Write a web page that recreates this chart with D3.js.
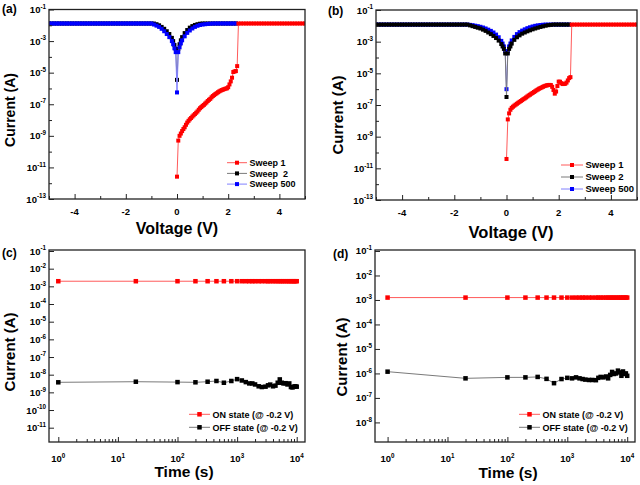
<!DOCTYPE html>
<html><head><meta charset="utf-8">
<script src="https://cdn.jsdelivr.net/npm/d3@7"></script>
<style>
body{margin:0;background:#fff}
text{font-family:"Liberation Sans",Arial,sans-serif;font-weight:bold;fill:#000}
</style>
</head><body>
<svg id="chart" width="640" height="485"></svg>
<script>
// ---------------- DATA ----------------
// Panels (a),(b): I-V sweeps
const voltsSweepA = [-5.0,-4.9,-4.8,-4.7,-4.6,-4.5,-4.4,-4.3,-4.2,-4.1,-4.0,-3.9,-3.8,-3.7,-3.6,-3.5,-3.4,-3.3,-3.2,-3.1,-3.0,-2.9,-2.8,-2.7,-2.6,-2.5,-2.4,-2.3,-2.2,-2.1,-2.0,-1.9,-1.8,-1.7,-1.6,-1.5,-1.4,-1.3,-1.2,-1.1,-1.0,-0.9,-0.8,-0.7,-0.6,-0.5,-0.4,-0.3,-0.2,-0.15,-0.1,-0.05,0,0.05,0.1,0.15,0.2,0.3,0.4,0.5,0.6,0.7,0.8,0.9,1.0,1.1,1.2,1.3,1.4,1.5,1.6,1.7,1.8,1.9,2.0,2.1,2.2,2.3];
const sweep2A = [1.3e-2,1.3e-2,1.3e-2,1.3e-2,1.3e-2,1.3e-2,1.3e-2,1.3e-2,1.3e-2,1.3e-2,
 1.3e-2,1.3e-2,1.3e-2,1.3e-2,1.3e-2,1.3e-2,1.3e-2,1.3e-2,1.3e-2,1.3e-2,
 1.3e-2,1.3e-2,1.3e-2,1.3e-2,1.3e-2,1.3e-2,1.3e-2,1.3e-2,1.3e-2,1.3e-2,
 1.3e-2,1.3e-2,1.3e-2,1.3e-2,1.3e-2,1.3e-2,1.3e-2,1.3e-2,1.3e-2,1.3e-2,1.3e-2,
 1.29e-2,1.17e-2,1.0e-2,7.9e-3,6.0e-3,4.2e-3,2.8e-3,1.6e-3,
 1.0e-3,5.6e-4,3.2e-4,3.5e-6,3.2e-4,6.3e-4,1.12e-3,
 1.78e-3,3.2e-3,5.0e-3,7.1e-3,8.9e-3,1.05e-2,1.17e-2,1.26e-2,
 1.3e-2,1.3e-2,1.3e-2,1.3e-2,1.3e-2,1.3e-2,1.3e-2,1.3e-2,1.3e-2,1.3e-2,1.3e-2,1.3e-2,1.3e-2,1.3e-2];
const sweep500A = [1.3e-2,1.3e-2,1.3e-2,1.3e-2,1.3e-2,1.3e-2,1.3e-2,1.3e-2,1.3e-2,1.3e-2,
 1.3e-2,1.3e-2,1.3e-2,1.3e-2,1.3e-2,1.3e-2,1.3e-2,1.3e-2,1.3e-2,1.3e-2,
 1.3e-2,1.3e-2,1.3e-2,1.3e-2,1.3e-2,1.3e-2,1.3e-2,1.3e-2,1.3e-2,1.3e-2,
 1.3e-2,1.3e-2,1.3e-2,1.3e-2,1.3e-2,1.3e-2,1.3e-2,1.3e-2,1.3e-2,1.3e-2,1.3e-2,
 1.12e-2,9.5e-3,7.9e-3,6.0e-3,4.2e-3,2.8e-3,1.78e-3,1.0e-3,
 6.3e-4,3.5e-4,2.0e-4,5.6e-7,2.0e-4,4.0e-4,7.1e-4,
 1.12e-3,2.0e-3,3.3e-3,4.7e-3,6.3e-3,7.9e-3,9.3e-3,1.05e-2,1.12e-2,1.17e-2,1.23e-2,1.26e-2,1.29e-2,
 1.3e-2,1.3e-2,1.3e-2,1.3e-2,1.3e-2,1.3e-2,1.3e-2,1.3e-2,1.3e-2];
const voltsSweep1A = [0,0.05,0.1,0.15,0.2,0.25,0.3,0.35,0.4,0.45,0.5,0.55,0.6,0.65,0.7,0.75,0.8,0.85,0.9,0.95,1.0,1.05,1.1,1.15,1.2,1.25,1.3,1.35,1.4,1.45,1.5,1.55,1.6,1.65,1.7,1.75,1.8,1.85,1.9,1.95,2.0,2.05,2.1,2.15,2.2,2.25,2.3,2.35,2.4,
 2.5,2.6,2.7,2.8,2.9,3.0,3.1,3.2,3.3,3.4,3.5,3.6,3.7,3.8,3.9,4.0,4.1,4.2,4.3,4.4,4.5,4.6,4.7,4.8,4.9,5.0];
const sweep1A = [2.6e-12,5.0e-10,1.0e-9,1.4e-9,2.0e-9,2.7e-9,3.5e-9,5.0e-9,6.9e-9,8.9e-9,
 1.12e-8,1.35e-8,1.66e-8,2.0e-8,2.4e-8,2.9e-8,3.5e-8,4.5e-8,5.6e-8,6.6e-8,
 7.9e-8,9.1e-8,1.1e-7,1.3e-7,1.6e-7,1.9e-7,2.2e-7,2.75e-7,3.3e-7,3.8e-7,
 4.4e-7,5.0e-7,5.75e-7,6.5e-7,7.2e-7,7.9e-7,8.5e-7,9.1e-7,9.8e-7,1.02e-6,
 1.2e-6,1.8e-6,2.8e-6,4.8e-6,1.1e-5,1.2e-5,1.26e-5,2.6e-5,1.3e-2,
 1.3e-2,1.3e-2,1.3e-2,1.3e-2,1.3e-2,1.3e-2,1.3e-2,1.3e-2,1.3e-2,1.3e-2,1.3e-2,1.3e-2,1.3e-2,
 1.3e-2,1.3e-2,1.3e-2,1.3e-2,1.3e-2,1.3e-2,1.3e-2,1.3e-2,1.3e-2,1.3e-2,1.3e-2,1.3e-2,1.3e-2];

const voltsSweepB = [-5.0,-4.9,-4.8,-4.7,-4.6,-4.5,-4.4,-4.3,-4.2,-4.1,-4.0,-3.9,-3.8,-3.7,-3.6,-3.5,-3.4,-3.3,-3.2,-3.1,-3.0,-2.9,-2.8,-2.7,-2.6,-2.5,-2.4,-2.3,-2.2,-2.1,-2.0,-1.9,-1.8,-1.7,-1.6,-1.5,-1.4,-1.3,-1.2,-1.1,-1.0,-0.9,-0.8,-0.7,-0.6,-0.5,-0.4,-0.3,-0.2,-0.15,-0.1,-0.05,0,0.05,0.1,0.15,0.2,0.3,0.4,0.5,0.6,0.7,0.8,0.9,1.0,1.1,1.2,1.3,1.4,1.5,1.6,1.7,1.8,1.9,2.0,2.1,2.2,2.3,2.4];
const sweep2B = [1.2e-2,1.2e-2,1.2e-2,1.2e-2,1.2e-2,1.2e-2,1.2e-2,1.2e-2,1.2e-2,1.2e-2,
 1.2e-2,1.2e-2,1.2e-2,1.2e-2,1.2e-2,1.2e-2,1.2e-2,1.2e-2,1.2e-2,1.2e-2,
 1.2e-2,1.2e-2,1.2e-2,1.2e-2,1.2e-2,1.2e-2,1.2e-2,1.2e-2,1.2e-2,1.2e-2,
 1.2e-2,1.2e-2,1.2e-2,1.2e-2,1.2e-2,1.2e-2,
 1.07e-2,9.5e-3,8.5e-3,7.6e-3,6.8e-3,5.75e-3,4.8e-3,3.8e-3,3.0e-3,2.3e-3,1.7e-3,1.17e-3,7.1e-4,
 5.0e-4,3.5e-4,1.8e-4,3.2e-7,1.8e-4,3.5e-4,5.0e-4,
 7.6e-4,1.3e-3,1.9e-3,2.5e-3,3.2e-3,3.8e-3,4.5e-3,5.2e-3,6.0e-3,6.8e-3,7.6e-3,8.5e-3,9.3e-3,1.02e-2,1.1e-2,1.15e-2,
 1.2e-2,1.2e-2,1.2e-2,1.2e-2,1.2e-2,1.2e-2,1.2e-2];
const sweep500B = [1.2e-2,1.2e-2,1.2e-2,1.2e-2,1.2e-2,1.2e-2,1.2e-2,1.2e-2,1.2e-2,1.2e-2,
 1.2e-2,1.2e-2,1.2e-2,1.2e-2,1.2e-2,1.2e-2,1.2e-2,1.2e-2,1.2e-2,1.2e-2,
 1.2e-2,1.2e-2,1.2e-2,1.2e-2,1.2e-2,1.2e-2,1.2e-2,1.2e-2,1.2e-2,1.2e-2,
 1.2e-2,1.2e-2,1.2e-2,1.2e-2,1.2e-2,1.2e-2,
 1.15e-2,1.1e-2,1.02e-2,9.5e-3,8.7e-3,7.8e-3,6.8e-3,5.75e-3,4.8e-3,3.8e-3,2.8e-3,1.9e-3,1.12e-3,
 7.6e-4,5.0e-4,2.5e-4,1.0e-6,2.5e-4,5.0e-4,7.6e-4,
 1.2e-3,2.0e-3,3.0e-3,4.0e-3,5.0e-3,6.0e-3,7.1e-3,8.1e-3,9.1e-3,1.0e-2,1.07e-2,1.12e-2,1.17e-2,
 1.2e-2,1.2e-2,1.2e-2,1.2e-2,1.2e-2,1.2e-2,1.2e-2,1.2e-2,1.2e-2,1.2e-2];
const voltsSweep1B = [0,0.05,0.1,0.15,0.2,0.25,0.3,0.35,0.4,0.45,0.5,0.55,0.6,0.65,0.7,0.75,0.8,0.85,0.9,0.95,1.0,1.05,1.1,1.15,1.2,1.25,1.3,1.35,1.4,1.45,1.5,1.55,1.6,1.65,1.7,1.75,1.8,1.85,1.9,1.95,2.0,2.05,2.1,2.15,2.2,2.25,2.3,2.35,2.4,2.45,
 2.5,2.6,2.7,2.8,2.9,3.0,3.1,3.2,3.3,3.4,3.5,3.6,3.7,3.8,3.9,4.0,4.1,4.2,4.3,4.4,4.5,4.6,4.7,4.8,4.9,5.0];
const sweep1B = [3.9e-11,1.23e-8,2.95e-8,5.0e-8,6.6e-8,7.8e-8,9.1e-8,1.05e-7,1.2e-7,1.38e-7,
 1.58e-7,1.78e-7,2.04e-7,2.34e-7,2.63e-7,3.0e-7,3.47e-7,4.0e-7,4.47e-7,5.13e-7,
 5.75e-7,6.6e-7,7.4e-7,8.5e-7,9.5e-7,1.07e-6,1.17e-6,1.29e-6,1.41e-6,1.55e-6,
 1.66e-6,1.74e-6,1.82e-6,1.86e-6,1.82e-6,1.41e-6,8.9e-7,5.2e-7,7.1e-7,1.58e-6,
 3.0e-6,2.95e-6,2.4e-6,2.1e-6,2.14e-6,2.2e-6,2.6e-6,3.55e-6,5.0e-6,5.75e-6,
 1.2e-2,1.2e-2,1.2e-2,1.2e-2,1.2e-2,1.2e-2,1.2e-2,1.2e-2,1.2e-2,1.2e-2,1.2e-2,1.2e-2,1.2e-2,
 1.2e-2,1.2e-2,1.2e-2,1.2e-2,1.2e-2,1.2e-2,1.2e-2,1.2e-2,1.2e-2,1.2e-2,1.2e-2,1.2e-2,1.2e-2];

// Panels (c),(d): retention
const timeS = [1,20,100,200,320,450,600,800,1000,1200,1400,1600,1800,2000,2300,2600,3000,3300,3600,4000,4400,4800,5200,5600,6000,6500,7000,7500,8000,8500,9000,9500,10000];
const onC = [1.95e-3,1.95e-3,1.95e-3,1.95e-3,1.95e-3,1.95e-3,1.95e-3,1.95e-3,1.95e-3,1.95e-3,1.95e-3,
 1.95e-3,1.95e-3,1.95e-3,1.95e-3,1.95e-3,1.95e-3,1.95e-3,1.95e-3,1.95e-3,1.95e-3,1.95e-3,
 1.95e-3,1.95e-3,1.95e-3,1.95e-3,1.95e-3,1.95e-3,1.95e-3,1.95e-3,1.95e-3,1.95e-3,1.95e-3];
const offC = [3.7e-9,4.0e-9,3.8e-9,3.7e-9,4.0e-9,4.4e-9,3.5e-9,4.4e-9,5.6e-9,4.7e-9,3.8e-9,
 3.2e-9,3.2e-9,2.8e-9,2.2e-9,2.0e-9,2.1e-9,2.5e-9,2.75e-9,2.2e-9,2.4e-9,3.5e-9,
 5.4e-9,3.5e-9,3.2e-9,3.3e-9,2.8e-9,3.2e-9,2.0e-9,1.9e-9,2.1e-9,2.2e-9,2.1e-9];
const onD = [1.25e-3,1.25e-3,1.25e-3,1.25e-3,1.25e-3,1.25e-3,1.25e-3,1.25e-3,1.25e-3,1.25e-3,1.25e-3,
 1.25e-3,1.25e-3,1.25e-3,1.25e-3,1.25e-3,1.25e-3,1.25e-3,1.25e-3,1.25e-3,1.25e-3,1.25e-3,
 1.25e-3,1.25e-3,1.25e-3,1.25e-3,1.25e-3,1.25e-3,1.25e-3,1.25e-3,1.25e-3,1.25e-3,1.25e-3];
const offD = [1.18e-6,6.3e-7,6.9e-7,6.9e-7,7.2e-7,6.0e-7,4.0e-7,5.9e-7,6.6e-7,6.3e-7,6.9e-7,
 6.3e-7,5.9e-7,5.6e-7,5.4e-7,5.4e-7,5.3e-7,6.6e-7,7.2e-7,6.9e-7,7.5e-7,6.3e-7,
 8.7e-7,1.15e-6,9.5e-7,1.0e-6,1.3e-6,1.1e-6,8.0e-7,1.2e-6,9.5e-7,1.0e-6,8.0e-7];

// Tick labels
const voltTicks = [-4,-2,0,2,4];
const voltMinorTicks = [-5,-3,-1,1,3,5];
const ivExpTicks = [-1,-3,-5,-7,-9,-11,-13];
const ivExpMinor = [-2,-4,-6,-8,-10,-12];
const timeExpTicks = [0,1,2,3,4];
const retExpTicksC = [-1,-2,-3,-4,-5,-6,-7,-8,-9,-10,-11];
const retExpTicksD = [-1,-2,-3,-4,-5,-6,-7,-8];
const ivLegend = ["Sweep 1","Sweep  2","Sweep 500"];
const ivLegendB = ["Sweep 1","Sweep 2","Sweep 500"];
const retLegend = ["ON state (@ -0.2 V)","OFF state (@ -0.2 V)"];

// ---------------- DRAW ----------------
const svg = d3.select("#chart");
const AX = "#222";
const RED = {line:"#ff5a5a", mark:"#ff0000"};
const BLK = {line:"#7a7a7a", mark:"#000000"};
const BLU = {line:"#8080ff", mark:"#0000ff"};

function supText(sel, base, exp, fs){
  sel.append("tspan").text(base);
  sel.append("tspan").attr("dy", -fs*0.45).attr("font-size", fs*0.66).text(exp);
}

function panel(o){
  const g = svg.append("g");
  const x = o.x, y = o.y;
  const [x0,x1] = x.range();
  const [y0,y1] = y.range();
  const cid = "clip"+o.id;
  svg.append("clipPath").attr("id",cid).append("rect")
    .attr("x",x0).attr("y",y1).attr("width",x1-x0).attr("height",y0-y1);
  const plot = g.append("g").attr("clip-path",`url(#${cid})`);
  o.series.forEach(s=>{
    const pts = s.xs.map((v,i)=>[v,s.ys[i]]);
    plot.append("path").datum(pts).attr("fill","none").attr("stroke",s.c.line).attr("stroke-width",1)
      .attr("d", d3.line().x(d=>x(d[0])).y(d=>y(d[1])));
    plot.append("g").selectAll("rect").data(pts).join("rect")
      .attr("x",d=>x(d[0])-o.ms/2).attr("y",d=>y(d[1])-o.ms/2)
      .attr("width",o.ms).attr("height",o.ms).attr("fill",s.c.mark);
  });
  // ticks
  const tk = (axis, tr) => { const a = g.append("g").attr("transform",tr).call(axis);
    a.select(".domain").remove(); a.selectAll("line").attr("stroke",AX).attr("stroke-width",1); a.selectAll("text").remove(); };
  tk(d3.axisBottom(x).tickValues(o.xMajor).tickSize(-5), `translate(0,${y0})`);
  tk(d3.axisBottom(x).tickValues(o.xMinor).tickSize(-3), `translate(0,${y0})`);
  tk(d3.axisLeft(y).tickValues(o.yMajor).tickSize(-5), `translate(${x0},0)`);
  if (o.yMinor.length) tk(d3.axisLeft(y).tickValues(o.yMinor).tickSize(-3), `translate(${x0},0)`);
  g.append("rect").attr("x",x0).attr("y",y1).attr("width",x1-x0).attr("height",y0-y1)
    .attr("fill","none").attr("stroke",AX).attr("stroke-width",1.3);
  // tick labels
  const fs = o.tfs;
  o.xMajor.forEach((v,i)=>{
    const t = g.append("text").attr("x",x(v)).attr("y",y0+o.xLabDy).attr("text-anchor","middle").attr("font-size",fs);
    if (o.xLog) supText(t,"10",String(o.xExp[i]),fs); else t.text(String(v));
  });
  o.yMajor.forEach((v,i)=>{
    const t = g.append("text").attr("x",x0-3).attr("y",y(v)+3.5).attr("text-anchor","end").attr("font-size",fs);
    supText(t,"10",String(o.yExp[i]),fs);
  });
  // titles
  g.append("text").attr("x",o.xt[0]).attr("y",o.xt[1]).attr("text-anchor","middle")
    .attr("font-size",o.xt[2]).text(o.xTitle);
  g.append("text").attr("transform",`translate(${o.yt[0]},${o.yt[1]}) rotate(-90)`).attr("text-anchor","middle")
    .attr("dy","0.36em").attr("font-size",o.yt[2]).text(o.yTitle);
  g.append("text").attr("x",o.tag[0]).attr("y",o.tag[1]).attr("font-size",12).text(o.tagText);
  // legend
  o.legend.items.forEach((it,i)=>{
    const ly = o.legend.y0 + i*o.legend.dy;
    g.append("line").attr("x1",o.legend.x0).attr("x2",o.legend.x1).attr("y1",ly).attr("y2",ly)
      .attr("stroke",it.c.line).attr("stroke-width",1);
    const mx = (o.legend.x0+o.legend.x1)/2;
    g.append("rect").attr("x",mx-o.ms/2).attr("y",ly-o.ms/2).attr("width",o.ms).attr("height",o.ms).attr("fill",it.c.mark);
    g.append("text").attr("x",o.legend.x1+2.5).attr("y",ly+3.3).attr("font-size",o.legend.fs).attr("xml:space","preserve").text(it.label);
  });
}

const pw = e => Math.pow(10,e);
function logMinors(lo, hi){ const r=[]; for(let k=lo;k<=hi;k++) for(let m=2;m<=9;m++) r.push(m*pw(k)); return r; }

// (a)
const xA = d3.scaleLinear().domain([-5,5]).range([49,305]);
const yA = d3.scaleLog().domain([1e-13,1e-1]).range([199,9.5]);
panel({id:"a", x:xA, y:yA, ms:4, tfs:9.5, xLabDy:15.5,
  series:[{xs:voltsSweepA,ys:sweep2A,c:BLK},{xs:voltsSweepA,ys:sweep500A,c:BLU},{xs:voltsSweep1A,ys:sweep1A,c:RED}],
  xMajor:voltTicks, xMinor:voltMinorTicks, xLog:false,
  yMajor:ivExpTicks.map(pw), yExp:ivExpTicks, yMinor:ivExpMinor.map(pw),
  xTitle:"Voltage (V)", xt:[177,234,16], yTitle:"Current (A)", yt:[10,110,14],
  tag:[2,13], tagText:"(a)",
  legend:{x0:227,x1:247,y0:162.7,dy:10.7,fs:9,items:[{c:RED,label:ivLegend[0]},{c:BLK,label:ivLegend[1]},{c:BLU,label:ivLegend[2]}]}
});
// (b)
const xB = d3.scaleLinear().domain([-5,5]).range([376,637]);
const yB = d3.scaleLog().domain([1e-13,1e-1]).range([200,10]);
panel({id:"b", x:xB, y:yB, ms:4, tfs:9.5, xLabDy:15.5,
  series:[{xs:voltsSweepB,ys:sweep500B,c:BLU},{xs:voltsSweepB,ys:sweep2B,c:BLK},{xs:voltsSweep1B,ys:sweep1B,c:RED}],
  xMajor:voltTicks, xMinor:voltMinorTicks, xLog:false,
  yMajor:ivExpTicks.map(pw), yExp:ivExpTicks, yMinor:ivExpMinor.map(pw),
  xTitle:"Voltage (V)", xt:[511,238,16.5], yTitle:"Current (A)", yt:[338,115,15],
  tag:[328,15], tagText:"(b)",
  legend:{x0:561,x1:583,y0:165,dy:12,fs:9.5,items:[{c:RED,label:ivLegendB[0]},{c:BLK,label:ivLegendB[1]},{c:BLU,label:ivLegendB[2]}]}
});
// (c)
const xC = d3.scaleLog().domain([pw(-0.156),pw(4.139)]).range([49,305]);
const yC = d3.scaleLog().domain([pw(-11.81),pw(-0.943)]).range([442,250]);
panel({id:"c", x:xC, y:yC, ms:4.5, tfs:9.5, xLabDy:20,
  series:[{xs:timeS,ys:onC,c:RED},{xs:timeS,ys:offC,c:BLK}],
  xMajor:timeExpTicks.map(pw), xExp:timeExpTicks, xMinor:logMinors(0,3), xLog:true,
  yMajor:retExpTicksC.map(pw), yExp:retExpTicksC, yMinor:[],
  xTitle:"Time (s)", xt:[184,477,15.5], yTitle:"Current (A)", yt:[10,352,15],
  tag:[2,257], tagText:"(c)",
  legend:{x0:189,x1:210,y0:414.3,dy:13,fs:9,items:[{c:RED,label:retLegend[0]},{c:BLK,label:retLegend[1]}]}
});
// (d)
const xD = d3.scaleLog().domain([pw(-0.21),pw(4.13)]).range([375,635]);
const yD = d3.scaleLog().domain([pw(-8.8),pw(-0.96)]).range([442,250]);
panel({id:"d", x:xD, y:yD, ms:4.5, tfs:9.5, xLabDy:20,
  series:[{xs:timeS,ys:onD,c:RED},{xs:timeS,ys:offD,c:BLK}],
  xMajor:timeExpTicks.map(pw), xExp:timeExpTicks, xMinor:logMinors(0,3), xLog:true,
  yMajor:retExpTicksD.map(pw), yExp:retExpTicksD, yMinor:[],
  xTitle:"Time (s)", xt:[508,478,15.5], yTitle:"Current (A)", yt:[342,357,15],
  tag:[333,258], tagText:"(d)",
  legend:{x0:519,x1:540,y0:414.3,dy:13,fs:9,items:[{c:RED,label:retLegend[0]},{c:BLK,label:retLegend[1]}]}
});
</script>
</body></html>
